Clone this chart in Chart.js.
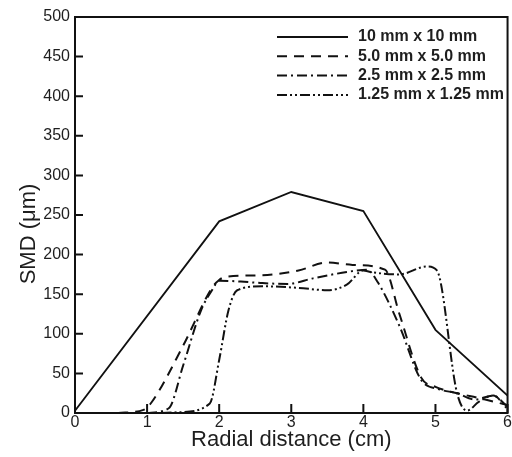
<!DOCTYPE html>
<html>
<head>
<meta charset="utf-8">
<script src="https://cdn.jsdelivr.net/npm/chart.js@4/dist/chart.umd.min.js"></script>
<style>
  html, body { margin: 0; padding: 0; background: #fff; }
  #wrap { width: 512px; height: 457px; position: relative; }
</style>
</head>
<body>
<div id="wrap"><canvas id="c" width="512" height="457"></canvas></div>
<script>
// ---- data ----
const seriesLabels = ['10 mm x 10 mm', '5.0 mm x 5.0 mm', '2.5 mm x 2.5 mm', '1.25 mm x 1.25 mm'];

const r10   = [0, 2, 3, 4, 5, 6];
const smd10 = [3, 242, 279, 255, 105, 22];

const r50   = [0.6, 0.95, 1.05, 1.5, 1.9, 2.0, 2.1, 2.6, 3.1, 3.5, 3.85, 4.3, 4.5, 4.8, 5.0, 5.3, 5.6, 6.0];
const smd50 = [0, 4, 12, 85, 158, 168, 172, 174, 180, 190, 187, 181, 125, 45, 33, 25, 19, 10];

const r25   = [1.0, 1.3, 1.5, 1.75, 1.9, 2.0, 2.3, 2.6, 2.95, 3.3, 3.77, 4.05, 4.2, 4.5, 4.8, 5.05, 5.3, 5.55, 5.8, 6.0];
const smd25 = [0, 6, 60, 130, 155, 167, 166, 164, 163, 170, 178, 181, 165, 110, 42, 30, 25, 17, 22, 8];

const r125   = [1.2, 1.45, 1.87, 2.0, 2.13, 2.25, 2.6, 3.1, 3.5, 3.77, 4.0, 4.1, 4.5, 4.88, 5.02, 5.3, 5.44, 5.6, 5.8, 6.0];
const smd125 = [0, 1, 12, 67, 130, 155, 160, 158, 155, 162, 180, 178, 175, 185, 180, 25, 3, 14, 22, 5];

const xTicks = [0, 1, 2, 3, 4, 5, 6];
const yTicks = [0, 50, 100, 150, 200, 250, 300, 350, 400, 450, 500];

// ---- helpers ----
const pts = (xs, ys) => xs.map((x, i) => ({ x: x, y: ys[i] }));
const FONT = '"Liberation Sans", Arial, Helvetica, sans-serif';
const TXT = '#1e1e1e';

const datasets = [
  { label: seriesLabels[0], data: pts(r10, smd10),   borderDash: [],                 tension: 0,   borderWidth: 1.8 },
  { label: seriesLabels[1], data: pts(r50, smd50),   borderDash: [10, 7],            tension: 0.3, borderWidth: 2 },
  { label: seriesLabels[2], data: pts(r25, smd25),   borderDash: [10, 4, 2, 4],      tension: 0.3, borderWidth: 2 },
  { label: seriesLabels[3], data: pts(r125, smd125), borderDash: [10, 3, 2, 3, 2, 3], tension: 0.3, borderWidth: 2 }
].map(d => Object.assign(d, {
  borderColor: '#111', backgroundColor: '#111', pointRadius: 0, fill: false,
  cubicInterpolationMode: d.tension ? 'monotone' : 'default'
}));

// frame, inward ticks, y title and legend
const decor = {
  id: 'decor',
  afterDraw(chart) {
    const ctx = chart.ctx, a = chart.chartArea;
    const xs = chart.scales.x, ys = chart.scales.y;
    ctx.save();
    ctx.strokeStyle = '#111';
    ctx.setLineDash([]);
    // inward ticks
    ctx.lineWidth = 2;
    ctx.beginPath();
    xTicks.forEach(v => {
      const px = xs.getPixelForValue(v);
      ctx.moveTo(px, a.bottom); ctx.lineTo(px, a.bottom - 9);
    });
    yTicks.forEach(v => {
      const py = ys.getPixelForValue(v);
      ctx.moveTo(a.left, py); ctx.lineTo(a.left + 8, py);
    });
    ctx.stroke();
    // frame
    ctx.lineWidth = 2;
    ctx.strokeRect(a.left, a.top, a.right - a.left, a.bottom - a.top);

    // y-axis title
    ctx.fillStyle = TXT;
    ctx.font = '22px ' + FONT;
    ctx.textAlign = 'center';
    ctx.textBaseline = 'middle';
    ctx.translate(29, (a.top + a.bottom) / 2 + 19);
    ctx.rotate(-Math.PI / 2);
    ctx.fillText('SMD (\u03bcm)', 0, 0);
    ctx.restore();

    // legend
    ctx.save();
    ctx.font = 'bold 16px ' + FONT;
    ctx.fillStyle = TXT;
    ctx.textAlign = 'left';
    ctx.textBaseline = 'middle';
    chart.data.datasets.forEach((d, i) => {
      const y = 37 + i * 19.3;
      ctx.strokeStyle = '#111';
      ctx.lineWidth = 2;
      ctx.setLineDash(d.borderDash || []);
      ctx.beginPath();
      ctx.moveTo(277, y); ctx.lineTo(348, y);
      ctx.stroke();
      ctx.setLineDash([]);
      ctx.fillText(d.label, 358, y);
    });
    ctx.restore();
  }
};

new Chart(document.getElementById('c'), {
  type: 'line',
  data: { datasets: datasets },
  options: {
    responsive: false,
    animation: false,
    devicePixelRatio: 1,
    layout: { padding: { top: 17, right: 4, bottom: 0, left: 0 } },
    plugins: { legend: { display: false }, tooltip: { enabled: false } },
    scales: {
      x: {
        type: 'linear', min: 0, max: 6,
        afterFit: s => { s.height = 44; },
        afterBuildTicks: s => { s.ticks = xTicks.map(v => ({ value: v })); },
        grid: { display: false, drawTicks: false },
        border: { display: false },
        ticks: { padding: 0, color: TXT, font: { family: FONT, size: 16 }, maxRotation: 0 },
        title: { display: true, text: 'Radial distance (cm)', color: TXT,
                 font: { family: FONT, size: 22 }, padding: { top: 0, bottom: 4 } }
      },
      y: {
        type: 'linear', min: 0, max: 500,
        afterFit: s => { s.width = 75; },
        afterBuildTicks: s => { s.ticks = yTicks.map(v => ({ value: v })); },
        grid: { display: false, drawTicks: false },
        border: { display: false },
        ticks: { padding: 5, color: TXT, font: { family: FONT, size: 16 } },
        title: { display: false }
      }
    }
  },
  plugins: [decor]
});
</script>
</body>
</html>
